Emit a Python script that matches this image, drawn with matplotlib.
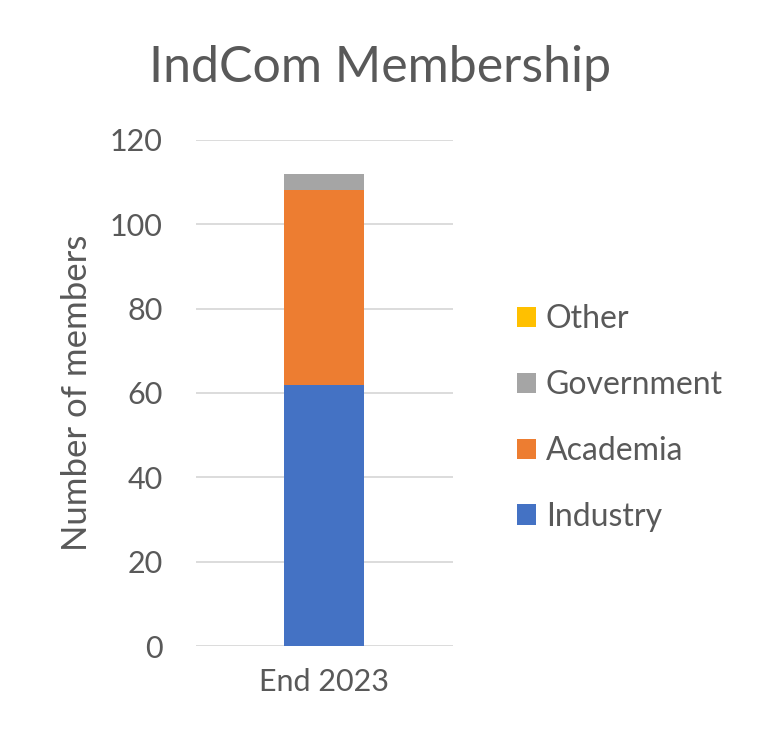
import matplotlib

matplotlib.use("Agg")
import matplotlib.pyplot as plt
from matplotlib.patches import Patch

# Data
categories = ["End 2023"]
series_names = ["Industry", "Academia", "Government", "Other"]
industry = [62]
academia = [46]
government = [4]
other = [0]

COLORS = ["#4472C4", "#ED7D31", "#A5A5A5", "#FFC000"]
INK = "#595959"
GRID = "#D9D9D9"

plt.rcParams["font.family"] = ["Lato", "DejaVu Sans"]

fig = plt.figure(figsize=(7.68, 7.40), dpi=100)
ax = fig.add_axes([0.255, 0.127, 0.335, 0.684])

bottom = [0] * len(categories)
for name, vals, color in zip(series_names, [industry, academia, government, other], COLORS):
    ax.bar(categories, vals, bottom=bottom, width=0.311, color=color, label=name, zorder=3)
    bottom = [b + v for b, v in zip(bottom, vals)]

ax.set_xlim(-0.5, 0.5)
ax.set_ylim(0, 120)
ax.set_yticks(range(0, 121, 20))
ax.yaxis.grid(True, color=GRID, linewidth=1.3, zorder=0)
ax.set_axisbelow(True)
for side in ("top", "right", "left", "bottom"):
    ax.spines[side].set_visible(False)
ax.tick_params(axis="both", length=0, labelsize=22, colors=INK)
ax.tick_params(axis="y", pad=24)
ax.tick_params(axis="x", pad=16)
ax.set_ylabel("Number of members", fontsize=25, color=INK, labelpad=12)

fig.text(0.495, 0.908, "IndCom Membership", ha="center", va="center",
         fontsize=36, color=INK)

handles = [Patch(facecolor=c, edgecolor="none") for c in COLORS][::-1]
labels = series_names[::-1]
fig.legend(handles, labels, loc="center left", bbox_to_anchor=(0.636, 0.435),
           frameon=False, fontsize=23, labelcolor=INK, handlelength=0.6,
           handleheight=0.6, handletextpad=0.3, labelspacing=1.12)

fig.savefig("out.png", dpi=100)
